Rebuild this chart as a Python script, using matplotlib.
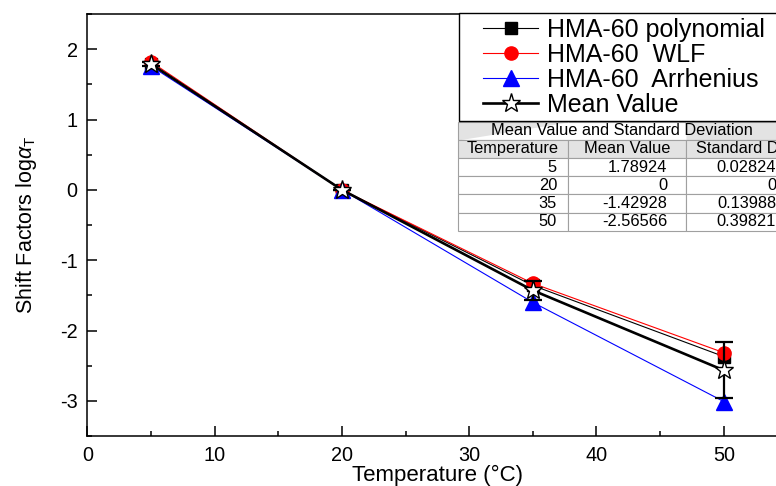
import matplotlib
matplotlib.use("Agg")
import matplotlib.pyplot as plt
from matplotlib.ticker import MultipleLocator
from matplotlib.patches import Rectangle

plt.rcParams['font.family'] = ['Liberation Sans', 'DejaVu Sans']
plt.rcParams['mathtext.fontset'] = 'custom'
plt.rcParams['mathtext.rm'] = 'Liberation Sans'
plt.rcParams['mathtext.it'] = 'Liberation Sans:italic'
plt.rcParams['axes.unicode_minus'] = False

# ---- data ----
temps = [5, 20, 35, 50]
poly = [1.79, 0.0, -1.36, -2.37]
wlf = [1.82, 0.0, -1.33, -2.315]
arr = [1.76, 0.0, -1.60, -3.01]
mean = [1.78924, 0.0, -1.42928, -2.56566]
std = [0.02824, 0.0, 0.13988, 0.39821]

table_title = "Mean Value and Standard Deviation"
col_labels = ["Temperature", "Mean Value", "Standard Deviation"]
table_rows = [["5", "1.78924", "0.02824"],
              ["20", "0", "0"],
              ["35", "-1.42928", "0.13988"],
              ["50", "-2.56566", "0.39821"]]

W, H = 776, 486
fig = plt.figure(figsize=(W / 100, H / 100), dpi=100)

def fx(px):
    return px / W

def fy(py):
    return 1 - py / H

ax_l, ax_r, ax_t, ax_b = 87.3, 787.4, 14.0, 436.0
ax = fig.add_axes([fx(ax_l), fy(ax_b), fx(ax_r - ax_l), (ax_b - ax_t) / H])

l1, = ax.plot(temps, poly, color='black', lw=0.8, marker='s', ms=8,
              label='HMA-60 polynomial', zorder=3)
l2, = ax.plot(temps, wlf, color='red', lw=0.8, marker='o', ms=9.5,
              label='HMA-60  WLF', zorder=4)
l3, = ax.plot(temps, arr, color='blue', lw=0.8, marker='^', ms=11,
              label='HMA-60  Arrhenius', zorder=4)
ax.errorbar(temps, mean, yerr=std, fmt='none', ecolor='black',
            capsize=6.5, capthick=1.6, elinewidth=1.6, zorder=5)
l4, = ax.plot(temps, mean, color='black', lw=1.9, marker='*', ms=14,
              mfc='white', mec='black', mew=1.0, label='Mean Value', zorder=6)

ax.set_xlim(0, 55)
ax.set_ylim(-3.5, 2.5)
ax.xaxis.set_major_locator(MultipleLocator(10))
ax.xaxis.set_minor_locator(MultipleLocator(5))
ax.yaxis.set_major_locator(MultipleLocator(1))
ax.yaxis.set_minor_locator(MultipleLocator(0.5))
ax.tick_params(which='both', direction='in', width=1.1, labelsize=14.3)
ax.tick_params(which='major', length=7, pad=7)
ax.tick_params(which='minor', length=3.5)
for s in ax.spines.values():
    s.set_linewidth(1.1)

ax.set_xlabel('Temperature (\u00b0C)', fontsize=16, labelpad=0)
ax.set_ylabel('Shift Factors log$\\alpha_{\\mathrm{T}}$', fontsize=15.5, labelpad=15)

# ---- legend (frame drawn separately so it starts at the reference's left edge) ----
fig.add_artist(Rectangle((fx(459), fy(121)), fx(400), (121 - 13) / H,
                         transform=fig.transFigure, facecolor='white',
                         edgecolor='black', lw=1.0, zorder=8))
leg = fig.legend(handles=[l1, l2, l3, l4], loc='upper left',
                 bbox_to_anchor=(fx(485 - 2), fy(18)), borderaxespad=0,
                 fontsize=18, frameon=False, handlelength=2.2,
                 handletextpad=0.36, borderpad=0.0, labelspacing=0.04)
leg.set_zorder(9)

# ---- table ----
tl, tt, tb = 458.0, 121.7, 230.7
widths = [110.0, 118.0, 100.0]
tr = tl + sum(widths)
tax = fig.add_axes([fx(tl), fy(tb), fx(tr - tl), (tb - tt) / H])
tax.axis('off')
cell_text = [["", "", ""], col_labels] + table_rows
col_w = [w / (tr - tl) for w in widths]
tbl = tax.table(cellText=cell_text, colWidths=col_w, bbox=[0, 0, 1, 1],
                cellLoc='right')
tbl.auto_set_font_size(False)
tbl.set_fontsize(11.8)
for (r, c), cell in tbl.get_celld().items():
    cell.set_linewidth(0.8)
    cell.set_edgecolor('#a0a0a0')
    if r <= 1:
        cell.set_facecolor('#e3e3e3')
        cell._loc = 'center'
        cell.get_text().set_ha('center')
    if r == 0:
        cell.visible_edges = {0: 'BTL', 1: 'BT', 2: 'BTR'}[c]
    if r >= 2 and c == 1:
        cell.PAD = 0.16
hdr = tbl[1, 2]
hdr._loc = 'left'
hdr.get_text().set_ha('left')
hdr.PAD = 0.1
tax.text((tr - tl - 20) / 2 / (tr - tl) + 0.03, 1 - 0.5 / 6, table_title,
         transform=tax.transAxes, ha='center', va='center', fontsize=11.8,
         zorder=10)

fig.savefig('out.png', dpi=100)
